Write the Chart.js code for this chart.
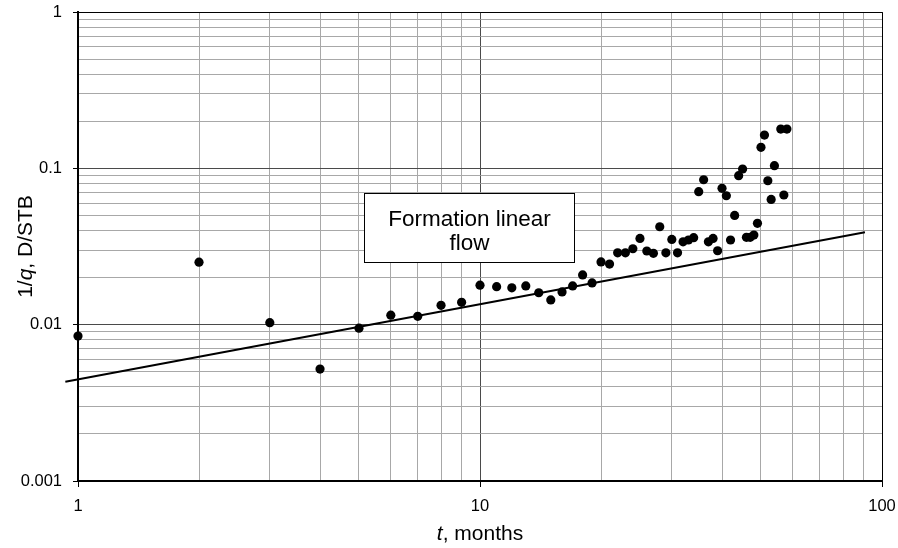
<!DOCTYPE html>
<html>
<head>
<meta charset="utf-8">
<script src="https://cdn.jsdelivr.net/npm/chart.js@4/dist/chart.umd.min.js"></script>
<style>
  html, body { margin: 0; padding: 0; background: #fff; }
  #grafico { display: block; }
</style>
</head>
<body>
<canvas id="grafico" width="898" height="548"></canvas>
<script>
// monthly production: t (months) and 1/q (D/STB)
var meses = [1, 2, 3, 4, 5, 6, 7, 8, 9, 10,
             11, 12, 13, 14, 15, 16, 17, 18, 19, 20,
             21, 22, 23, 24, 25, 26, 27, 28, 29, 30,
             31, 32, 33, 34, 35, 36, 37, 38, 39, 40,
             41, 42, 43, 44, 45, 46, 47, 48, 49, 50,
             51, 52, 53, 54, 56, 57, 58];
var inversoVazao = [0.00845, 0.0251, 0.0103, 0.0052, 0.0095, 0.0115, 0.0113, 0.0133, 0.0139, 0.0179,
                    0.0175, 0.0172, 0.0177, 0.0160, 0.0144, 0.0162, 0.0177, 0.0208, 0.0185, 0.0252,
                    0.0244, 0.0288, 0.0288, 0.0306, 0.0356, 0.0296, 0.0286, 0.0423, 0.0288, 0.0351,
                    0.0288, 0.0339, 0.0348, 0.0360, 0.0709, 0.0845, 0.0339, 0.0356, 0.0297, 0.0745,
                    0.0668, 0.0348, 0.0500, 0.0897, 0.0990, 0.0362, 0.0362, 0.0374, 0.0445, 0.1362,
                    0.1633, 0.0833, 0.0633, 0.1040, 0.1784, 0.0675, 0.1784];

// half-slope line for formation linear flow
var retaT = [0.93, 90.7];
var retaQ = [0.00432, 0.0390];

var ticksX = [1, 2, 3, 4, 5, 6, 7, 8, 9, 10, 20, 30, 40, 50, 60, 70, 80, 90, 100];
var ticksY = [0.001, 0.002, 0.003, 0.004, 0.005, 0.006, 0.007, 0.008, 0.009,
              0.01, 0.02, 0.03, 0.04, 0.05, 0.06, 0.07, 0.08, 0.09,
              0.1, 0.2, 0.3, 0.4, 0.5, 0.6, 0.7, 0.8, 0.9, 1];
var rotulosX = ['1', '10', '100'];
var rotulosY = ['0.001', '0.01', '0.1', '1'];

var tituloX = [{ texto: 't', italico: true }, { texto: ', months' }];
var tituloY = [{ texto: '1/' }, { texto: 'q', italico: true }, { texto: ', D/STB' }];
var textoCaixa = ['Formation linear', 'flow'];

var fonte = '"Liberation Sans", Arial, sans-serif';

function ehDecada(v) {
    var l = Math.log10(v);
    return Math.abs(l - Math.round(l)) < 1e-9;
}

function corGrade(ctx) {
    if (ctx.tick && ehDecada(ctx.tick.value)) return '#4a4a4a';
    return '#a8a8a8';
}

function corTick(ctx) {
    if (ctx.tick && ehDecada(ctx.tick.value)) return '#000';
    return 'rgba(0,0,0,0)';
}

// labels may overhang the plot edges, so drop the extra room Chart.js reserves for them
function semFolga(s) {
    s.paddingTop = 0;
    s.paddingBottom = 0;
    s.paddingLeft = 0;
    s.paddingRight = 0;
}

function escreverMisto(ctx, partes, x, y, tamanho) {
    var total = 0;
    var larguras = [];
    for (var i = 0; i < partes.length; i++) {
        ctx.font = (partes[i].italico ? 'italic ' : '') + tamanho + 'px ' + fonte;
        larguras.push(ctx.measureText(partes[i].texto).width);
        total += larguras[i];
    }
    var px = x - total / 2;
    ctx.textAlign = 'left';
    ctx.textBaseline = 'alphabetic';
    for (var j = 0; j < partes.length; j++) {
        ctx.font = (partes[j].italico ? 'italic ' : '') + tamanho + 'px ' + fonte;
        ctx.fillText(partes[j].texto, px, y);
        px += larguras[j];
    }
}

var molduraETextos = {
    id: 'molduraETextos',
    afterDraw: function(chart) {
        var ctx = chart.ctx;
        var a = chart.chartArea;
        ctx.save();

        // top and right edges of the plot frame
        ctx.strokeStyle = '#000';
        ctx.lineWidth = 1;
        ctx.beginPath();
        ctx.moveTo(a.left, a.top + 0.5);
        ctx.lineTo(a.right + 0.5, a.top + 0.5);
        ctx.lineTo(a.right + 0.5, a.bottom);
        ctx.stroke();

        ctx.fillStyle = '#000';
        escreverMisto(ctx, tituloX, (a.left + a.right) / 2, 540, 21);

        ctx.save();
        ctx.translate(32, (a.top + a.bottom) / 2);
        ctx.rotate(-Math.PI / 2);
        escreverMisto(ctx, tituloY, 0, 0, 21);
        ctx.restore();

        // label box
        var bx = a.left + 286.5, by = a.top + 181.5, bw = 210, bh = 69;
        ctx.fillStyle = '#fff';
        ctx.fillRect(bx, by, bw, bh);
        ctx.strokeStyle = '#000';
        ctx.lineWidth = 1;
        ctx.strokeRect(bx, by, bw, bh);
        ctx.fillStyle = '#000';
        ctx.font = '22.5px ' + fonte;
        ctx.textAlign = 'center';
        ctx.textBaseline = 'alphabetic';
        ctx.fillText(textoCaixa[0], bx + bw / 2, by + 32);
        ctx.fillText(textoCaixa[1], bx + bw / 2, by + 56);

        ctx.restore();
    }
};

var pontos = meses.map(function(t, i) { return { x: t, y: inversoVazao[i] }; });
var reta = retaT.map(function(t, i) { return { x: t, y: retaQ[i] }; });

var config = {
    type: 'scatter',
    data: {
        datasets: [{
            label: 'dados',
            data: pontos,
            backgroundColor: '#000',
            borderWidth: 0,
            pointRadius: 4.6,
            clip: false,
            order: 0
        }, {
            label: 'reta',
            type: 'line',
            data: reta,
            borderColor: '#000',
            borderWidth: 2,
            pointRadius: 0,
            fill: false,
            clip: false,
            order: 1
        }]
    },
    options: {
        responsive: false,
        animation: false,
        events: [],
        layout: { padding: { left: 0, top: 12, right: 16, bottom: 0 } },
        plugins: {
            legend: { display: false },
            tooltip: { enabled: false }
        },
        scales: {
            x: {
                type: 'logarithmic',
                position: 'bottom',
                min: 1,
                max: 100,
                afterBuildTicks: function(s) {
                    s.ticks = ticksX.map(function(v) { return { value: v, major: ehDecada(v) }; });
                },
                afterFit: function(s) { s.height = 67; semFolga(s); },
                grid: { color: corGrade, tickColor: corTick, tickLength: 6, lineWidth: 1 },
                border: { color: '#000', width: 2 },
                ticks: {
                    autoSkip: false,
                    maxRotation: 0,
                    padding: 10,
                    color: '#000',
                    font: { family: fonte, size: 16.5 },
                    callback: function(v) {
                        if (!ehDecada(v)) return '';
                        return rotulosX[Math.round(Math.log10(v))];
                    }
                }
            },
            y: {
                type: 'logarithmic',
                position: 'left',
                min: 0.001,
                max: 1,
                afterBuildTicks: function(s) {
                    s.ticks = ticksY.map(function(v) { return { value: v, major: ehDecada(v) }; });
                },
                afterFit: function(s) { s.width = 78; semFolga(s); },
                grid: { color: corGrade, tickColor: corTick, tickLength: 5, lineWidth: 1 },
                border: { color: '#000', width: 2 },
                ticks: {
                    autoSkip: false,
                    padding: 11,
                    color: '#000',
                    font: { family: fonte, size: 16.5 },
                    callback: function(v) {
                        if (!ehDecada(v)) return '';
                        return rotulosY[Math.round(Math.log10(v)) + 3];
                    }
                }
            }
        }
    },
    plugins: [molduraETextos]
};

new Chart(document.getElementById('grafico'), config);
</script>
</body>
</html>
